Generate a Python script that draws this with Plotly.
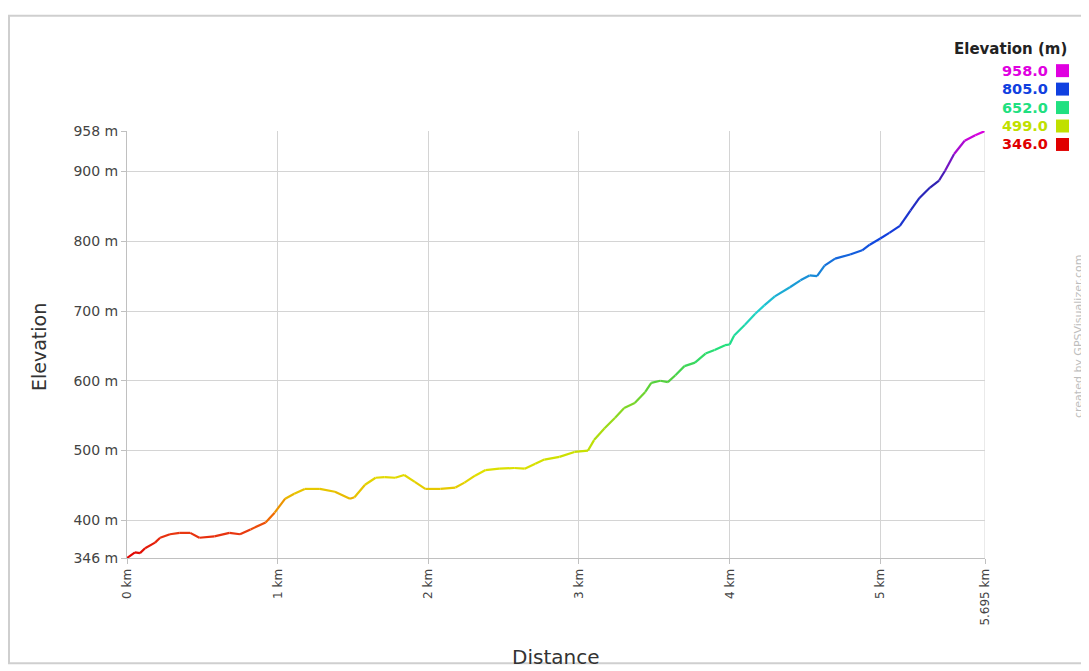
import plotly.graph_objects as go
from plotly.colors import sample_colorscale

# Data (distance km, elevation m)
distance_km = [0.0, 0.053, 0.086, 0.12, 0.186, 0.22, 0.285, 0.35, 0.42, 0.48, 0.58, 0.68, 0.75, 0.82,
               0.92, 0.98, 1.05, 1.11, 1.18, 1.28, 1.38, 1.48, 1.51, 1.58, 1.65, 1.71, 1.78, 1.84,
               1.91, 1.98, 2.08, 2.18, 2.24, 2.31, 2.38, 2.47, 2.57, 2.64, 2.71, 2.77, 2.87, 2.97,
               3.06, 3.10, 3.17, 3.24, 3.30, 3.37, 3.44, 3.48, 3.54, 3.59, 3.64, 3.70, 3.77, 3.84,
               3.90, 3.97, 4.00, 4.03, 4.10, 4.17, 4.23, 4.30, 4.40, 4.47, 4.53, 4.58, 4.63, 4.70,
               4.80, 4.88, 4.93, 5.00, 5.06, 5.13, 5.20, 5.26, 5.33, 5.39, 5.43, 5.49, 5.56, 5.63,
               5.695]
elevation_m = [346, 354, 353, 360, 368, 375, 380, 382, 382, 375, 377, 382, 380, 387,
               397, 411, 431, 438, 445, 445, 441, 431, 433, 451, 461, 462, 461, 465,
               455, 445, 445, 447, 454, 464, 472, 474, 475, 474, 481, 487, 491, 498,
               500, 515, 532, 547, 561, 568, 584, 597, 600, 598, 608, 621, 626, 639,
               644, 651, 652, 665, 680, 696, 708, 721, 734, 744, 751, 750, 765, 775,
               781, 787, 795, 804, 812, 822, 844, 862, 877, 887, 901, 925, 944, 952,
               958]

y_tick_vals = [346, 400, 500, 600, 700, 800, 900, 958]
y_tick_text = ["346 m", "400 m", "500 m", "600 m", "700 m", "800 m", "900 m", "958 m"]
x_tick_vals = [0, 1, 2, 3, 4, 5, 5.695]
x_tick_text = ["0 km", "1 km", "2 km", "3 km", "4 km", "5 km", "5.695 km"]

legend_values = ["958.0", "805.0", "652.0", "499.0", "346.0"]
legend_colors = ["#e000e0", "#1040e0", "#20e080", "#c0e000", "#e00000"]

ymin, ymax = 346, 958
colorscale = [[0.0, "#e00000"], [0.06, "#e83810"], [0.1, "#f07000"], [0.15, "#e8c000"],
              [0.2, "#e0e000"], [0.25, "#c8e000"], [0.42, "#50d040"], [0.5, "#20e080"],
              [0.58, "#20d0d0"], [0.75, "#1040e0"], [0.88, "#3020b0"], [1.0, "#e000e0"]]

FONT = "DejaVu Sans, Verdana, sans-serif"

fig = go.Figure()
for i in range(len(distance_km) - 1):
    mid = (elevation_m[i] + elevation_m[i + 1]) / 2
    c = sample_colorscale(colorscale, [(mid - ymin) / (ymax - ymin)])[0]
    fig.add_trace(go.Scatter(x=distance_km[i:i + 2], y=elevation_m[i:i + 2], mode="lines",
                             line=dict(color=c, width=2.2), showlegend=False, hoverinfo="skip"))

# page has an 8px body margin; figure drawn at (8,8)
OFF = 8
L, R_EDGE, T, B_EDGE = 127, 985, 130.5, 558.5
fig.update_layout(
    width=1089 - OFF, height=671 - OFF,
    margin=dict(l=L - OFF, r=1089 - R_EDGE, t=T - OFF, b=671 - B_EDGE),
    paper_bgcolor="white", plot_bgcolor="white",
    font=dict(family=FONT, color="#333"),
    showlegend=False,
)
fig.update_xaxes(range=[0, 5.695], tickvals=x_tick_vals, ticktext=x_tick_text, tickangle=-90,
                 showgrid=True, gridcolor="#d4d4d4", gridwidth=1, zeroline=False,
                 showline=True, linecolor="#c0c0c0", ticks="outside", ticklen=5, tickcolor="#c0c0c0",
                 tickfont=dict(size=12, color="#444", family=FONT))
fig.update_yaxes(range=[ymin, ymax], tickvals=y_tick_vals, ticktext=y_tick_text,
                 showgrid=True, gridcolor="#d4d4d4", gridwidth=1, zeroline=False,
                 showline=True, linecolor="#c0c0c0", ticks="outside", ticklen=5, tickcolor="#c0c0c0",
                 tickfont=dict(size=14, color="#444", family=FONT))

# helpers: reference-pixel -> paper coords (relative to plot area)
def px(X):
    return (X - L) / (R_EDGE - L)
def py(Y):
    return (B_EDGE - Y) / (B_EDGE - T)

# axis titles
fig.add_annotation(xref="paper", yref="paper", x=px(39), y=py(347), text="Elevation",
                   showarrow=False, textangle=-90, xanchor="center", yanchor="middle",
                   font=dict(size=19, color="#333", family=FONT))
fig.add_annotation(xref="paper", yref="paper", x=px(555), y=py(658), text="Distance",
                   showarrow=False, xanchor="center", yanchor="middle",
                   font=dict(size=20, color="#333", family=FONT))

# right border of plot area
fig.add_shape(type="line", xref="x", yref="y", x0=5.695, x1=5.695, y0=ymin, y1=ymax,
              line=dict(color="#d4d4d4", width=1))

# outer frame
fig.add_shape(type="rect", xref="paper", yref="paper",
              x0=px(9), x1=px(1100), y0=py(664), y1=py(15),
              line=dict(color="#cfcfcf", width=2), layer="below")

# legend (colour key)
fig.add_annotation(xref="paper", yref="paper", x=px(1069), y=py(48), text="<b>Elevation (m)</b>",
                   showarrow=False, xanchor="right", yanchor="middle",
                   font=dict(size=15, color="#222", family=FONT))
for k, (val, col) in enumerate(zip(legend_values, legend_colors)):
    yc = 70 + k * 18.5
    fig.add_annotation(xref="paper", yref="paper", x=px(1050), y=py(yc), text=f"<b>{val}</b>",
                       showarrow=False, xanchor="right", yanchor="middle",
                       font=dict(size=14.5, color=col, family=FONT))
    fig.add_shape(type="rect", xref="paper", yref="paper",
                  x0=px(1056), x1=px(1069), y0=py(yc + 6.5), y1=py(yc - 6.5),
                  fillcolor=col, line=dict(color=col, width=0))

# watermark
fig.add_annotation(xref="paper", yref="paper", x=px(1078), y=py(337), text="created by GPSVisualizer.com",
                   showarrow=False, textangle=-90, xanchor="center", yanchor="middle",
                   font=dict(size=11, color="#bdbdbd", family=FONT))

fig.write_html("out.html")
